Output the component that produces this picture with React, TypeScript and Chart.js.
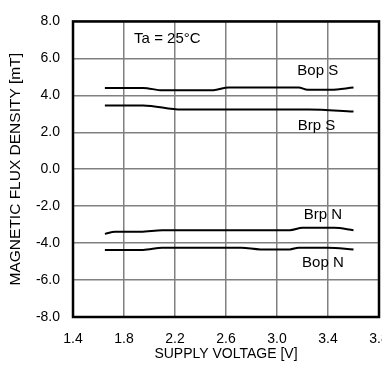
import React, { useEffect, useRef } from "react";
import { Chart, registerables } from "chart.js";

Chart.register(...registerables);

const bopSVolts = [1.65, 1.95, 2.1, 2.5, 2.62, 3.17, 3.24, 3.42, 3.6];
const bopSValues = [4.4, 4.4, 4.27, 4.28, 4.42, 4.42, 4.3, 4.3, 4.42];

const brpSVolts = [1.65, 1.95, 2.25, 3.25, 3.6];
const brpSValues = [3.45, 3.45, 3.23, 3.23, 3.12];

const brpNVolts = [1.65, 1.73, 1.93, 2.1, 3.1, 3.2, 3.45, 3.6];
const brpNValues = [-3.5, -3.38, -3.38, -3.3, -3.3, -3.17, -3.17, -3.3];

const bopNVolts = [1.65, 1.95, 2.1, 2.72, 2.87, 3.1, 3.17, 3.4, 3.6];
const bopNValues = [-4.37, -4.37, -4.25, -4.25, -4.34, -4.34, -4.25, -4.25, -4.34];

const annotationTexts = ["Ta = 25°C", "Bop S", "Brp S", "Brp N", "Bop N"];
const annotationX = [2.14, 3.32, 3.31, 3.36, 3.36];
const annotationY = [7.07, 5.32, 2.33, -2.47, -5.05];

const xTitle = "SUPPLY VOLTAGE [V]";
const yTitle = "MAGNETIC FLUX DENSITY [mT]";

const toPoints = (xs: number[], ys: number[]) => xs.map((x, i) => ({ x, y: ys[i] }));

const frameAndText = {
  id: "frameAndText",
  afterDraw(chart: any) {
    const { ctx, chartArea, scales } = chart;
    ctx.save();
    ctx.strokeStyle = "#000";
    ctx.lineWidth = 2.5;
    ctx.strokeRect(chartArea.left, chartArea.top, chartArea.right - chartArea.left, chartArea.bottom - chartArea.top);
    ctx.fillStyle = "#000";
    ctx.font = '15px "Liberation Sans", Arial, sans-serif';
    ctx.textAlign = "center";
    ctx.textBaseline = "middle";
    annotationTexts.forEach((t, i) => {
      ctx.fillText(t, scales.x.getPixelForValue(annotationX[i]), scales.y.getPixelForValue(annotationY[i]));
    });
    ctx.restore();
  },
};

export default function App() {
  const ref = useRef<HTMLCanvasElement | null>(null);
  useEffect(() => {
    if (!ref.current) return;
    const lineStyle = {
      borderColor: "#000",
      borderWidth: 2,
      pointRadius: 0,
      fill: false,
      cubicInterpolationMode: "monotone" as const,
    };
    const chart = new Chart(ref.current, {
      type: "line",
      data: {
        datasets: [
          { label: "Bop S", data: toPoints(bopSVolts, bopSValues), ...lineStyle },
          { label: "Brp S", data: toPoints(brpSVolts, brpSValues), ...lineStyle },
          { label: "Brp N", data: toPoints(brpNVolts, brpNValues), ...lineStyle },
          { label: "Bop N", data: toPoints(bopNVolts, bopNValues), ...lineStyle },
        ],
      },
      options: {
        animation: false,
        responsive: true,
        maintainAspectRatio: false,
        layout: { padding: { top: 14, right: 3, left: 0, bottom: 0 } },
        plugins: { legend: { display: false }, tooltip: { enabled: false } },
        scales: {
          x: {
            type: "linear",
            min: 1.4,
            max: 3.8,
            ticks: {
              stepSize: 0.4,
              color: "#000",
              padding: 14,
              maxRotation: 0,
              autoSkip: false,
              font: { family: '"Liberation Sans", Arial, sans-serif', size: 14 },
              callback: (v: any) => Number(v).toFixed(1),
            },
            grid: { color: "#808080", lineWidth: 1.5, drawTicks: false },
            border: { display: false },
            title: {
              display: true,
              text: xTitle,
              color: "#000",
              font: { family: '"Liberation Sans", Arial, sans-serif', size: 14 },
              padding: { top: 0, bottom: 11.5 },
            },
            afterFit: (s: any) => {
              s.height = 57;
              s.paddingRight = 0;
              s.paddingLeft = 0;
            },
          },
          y: {
            type: "linear",
            min: -8,
            max: 8,
            ticks: {
              stepSize: 2,
              color: "#000",
              padding: 13,
              font: { family: '"Liberation Sans", Arial, sans-serif', size: 14 },
              callback: (v: any) => Number(v).toFixed(1),
            },
            grid: { color: "#808080", lineWidth: 1.5, drawTicks: false },
            border: { display: false },
            title: {
              display: true,
              text: yTitle,
              color: "#000",
              font: { family: '"Liberation Sans", Arial, sans-serif', size: 15.5 },
              padding: { top: 6.7, bottom: 0 },
            },
            afterFit: (s: any) => {
              s.width = 73;
            },
          },
        },
      },
      plugins: [frameAndText],
    });
    return () => chart.destroy();
  }, []);
  return (
    <div style={{ position: "fixed", left: 0, top: 0, width: 382, height: 374, background: "#fff" }}>
      <canvas ref={ref} />
    </div>
  );
}
